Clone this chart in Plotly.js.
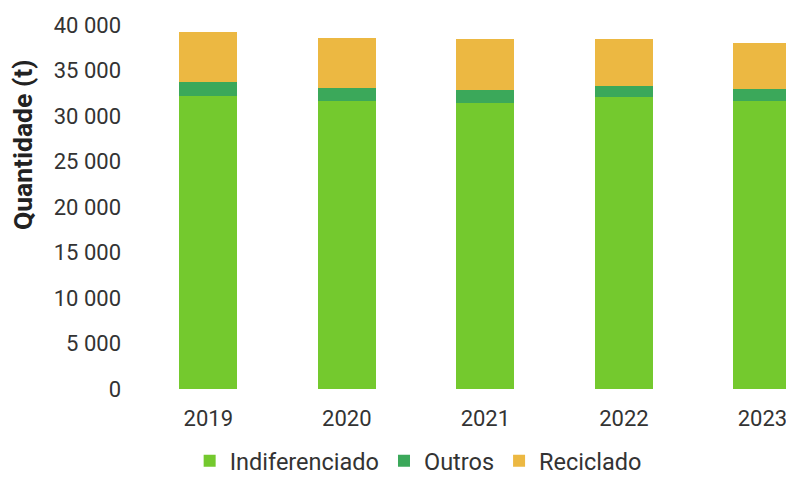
<!DOCTYPE html>
<html>
<head>
<meta charset="utf-8">
<script src="https://cdn.plot.ly/plotly-3.0.1.min.js"></script>
<style>html,body{margin:0;padding:0;background:#fff;}#chart{width:786px;height:483px;}</style>
</head>
<body>
<div id="chart"></div>
<script>
var years = ["2019", "2020", "2021", "2022", "2023"];
var indiferenciado = [32200, 31650, 31450, 32050, 31700];
var outros = [1570, 1390, 1400, 1250, 1280];
var reciclado = [5430, 5500, 5580, 5130, 5080];
var yTicks = [0, 5000, 10000, 15000, 20000, 25000, 30000, 35000, 40000];
var yTitle = "Quantidade (t)";

var seriesNames = ["Indiferenciado", "Outros", "Reciclado"];
var seriesValues = [indiferenciado, outros, reciclado];
var seriesColors = ["#74c92e", "#3ba85a", "#ecb842"];

var traces = seriesNames.map(function (n, i) {
  return {
    type: "bar",
    name: n,
    x: years,
    y: seriesValues[i],
    marker: { color: seriesColors[i], line: { width: 0 } },
    width: 0.42,
    hoverinfo: "none"
  };
});

var layout = {
  width: 786,
  height: 483,
  barmode: "stack",
  separators: ", ",
  paper_bgcolor: "#ffffff",
  plot_bgcolor: "#ffffff",
  margin: { l: 130, r: 0, t: 25, b: 94, pad: 0, autoexpand: false },
  font: { family: "Roboto, sans-serif", size: 22, color: "#333333" },
  showlegend: true,
  legend: {
    orientation: "h",
    x: 0.532, xref: "container", xanchor: "center",
    y: -0.014, yref: "container", yanchor: "bottom",
    font: { size: 23.5, color: "#333333" },
    itemwidth: 30,
    traceorder: "normal"
  },
  xaxis: {
    type: "category",
    range: [-0.565, 4.17],
    showgrid: false,
    zeroline: false,
    showline: false,
    ticks: "",
    tickfont: { size: 22, color: "#333333" },
    ticklabelstandoff: 14
  },
  yaxis: {
    range: [0, 40000],
    tickvals: yTicks,
    tickformat: ",d",
    showgrid: false,
    zeroline: false,
    showline: false,
    ticks: "",
    tickfont: { size: 22, color: "#333333" },
    ticklabelstandoff: 8
  },
  annotations: [{
    text: "<b>" + yTitle + "</b>",
    textangle: -90,
    xref: "paper", x: 0, xanchor: "center",
    xshift: -108,
    yref: "paper", y: 0.67, yanchor: "middle",
    showarrow: false,
    font: { family: "Roboto, sans-serif", size: 26.5, color: "#222222" }
  }]
};

Plotly.newPlot("chart", traces, layout, { displayModeBar: false, staticPlot: true });
</script>
</body>
</html>
